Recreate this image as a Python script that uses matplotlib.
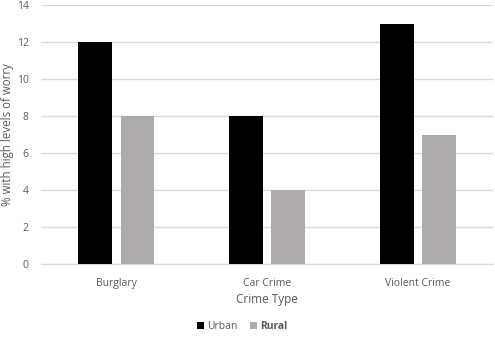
import matplotlib.pyplot as plt
import numpy as np

# Data
crime_types = ['Burglary', 'Car Crime', 'Violent Crime']
urban = [12, 8, 13]
rural = [8, 4, 7]

plt.rcParams['font.family'] = ['Open Sans', 'DejaVu Sans']
text_col = '#595959'
grid_col = '#D9D9D9'

fig = plt.figure(figsize=(4.95, 3.41), dpi=100)
ax = fig.add_axes([0.083, 0.226, 0.913, 0.759])

x = np.arange(len(crime_types))
w = 0.225
ax.bar(x - 0.14, urban, width=w, color='black', zorder=3, label='Urban')
ax.bar(x + 0.14, rural, width=w, color='#AFABAB', zorder=3, label='Rural')

ax.set_xlim(-0.5, 2.5)
ax.set_ylim(0, 14)
ax.set_yticks(range(0, 15, 2))
ax.set_xticks(x)
ax.set_xticklabels(crime_types)
ax.tick_params(axis='both', length=0, labelsize=7.5, labelcolor=text_col)
ax.tick_params(axis='x', pad=10)
ax.tick_params(axis='y', pad=9)
ax.grid(axis='y', color=grid_col, linewidth=1, zorder=0)
for s in ['top', 'right', 'left']:
    ax.spines[s].set_visible(False)
ax.spines['bottom'].set_color(grid_col)

ax.set_xlabel('Crime Type', fontsize=8.5, color=text_col, labelpad=3)
ax.set_ylabel('% with high levels of worry', fontsize=8.3, color=text_col)
ax.yaxis.set_label_coords(-0.061, 0.5)

leg = ax.legend(loc='upper center', bbox_to_anchor=(0.445, -0.185), ncol=2, frameon=False,
                fontsize=7.5, handlelength=0.7, handleheight=0.7, handletextpad=0.3,
                columnspacing=1.2)
for i, t in enumerate(leg.get_texts()):
    t.set_color(text_col)
    if i == 1:
        t.set_fontweight('bold')

fig.savefig('out.png', dpi=100)
